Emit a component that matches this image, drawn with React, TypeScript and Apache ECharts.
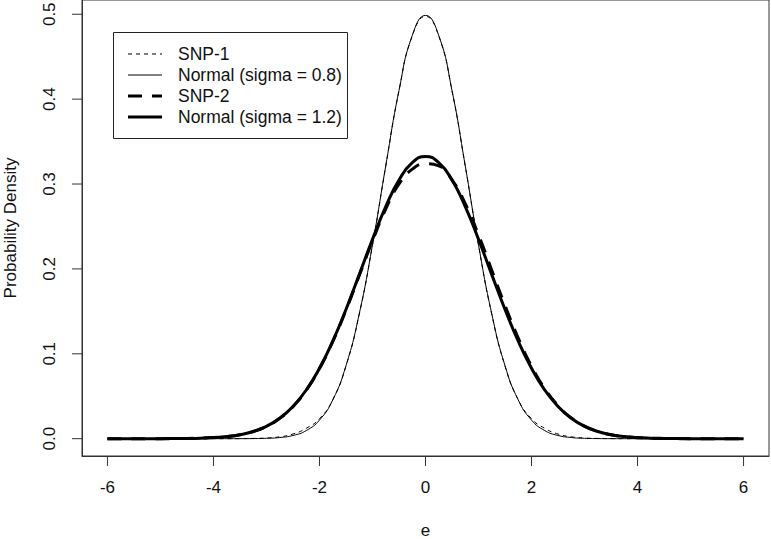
import React, { useEffect, useRef } from "react";
import * as echarts from "echarts";

// x grid for the curves (step 0.25 from -6 to 6)
const xValues: number[] = [
  -6, -5.75, -5.5, -5.25, -5, -4.75, -4.5, -4.25, -4, -3.75, -3.5, -3.25, -3, -2.75, -2.5, -2.25, -2, -1.75, -1.5,
  -1.25, -1, -0.75, -0.5, -0.25, 0, 0.25, 0.5, 0.75, 1, 1.25, 1.5, 1.75, 2, 2.25, 2.5, 2.75, 3, 3.25, 3.5, 3.75, 4,
  4.25, 4.5, 4.75, 5, 5.25, 5.5, 5.75, 6,
];

const snp1: number[] = [
  0, 0, 0, 0, 0, 0, 0, 0, 0, 0.00003, 0.0001, 0.0003, 0.0008, 0.0022, 0.0055, 0.0122, 0.0235, 0.0458, 0.0855,
  0.1465, 0.228, 0.321, 0.41, 0.4745, 0.4975, 0.4745, 0.41, 0.321, 0.228, 0.1465, 0.0855, 0.0458, 0.0235, 0.0122,
  0.0055, 0.0022, 0.0008, 0.0003, 0.0001, 0.00003, 0, 0, 0, 0, 0, 0, 0, 0, 0,
];

const normal08: number[] = [
  0, 0, 0, 0, 0, 0, 0, 0, 0, 0, 0.00003, 0.00013, 0.00044, 0.00136, 0.00378, 0.00955, 0.0219, 0.0456, 0.086,
  0.1471, 0.2283, 0.3214, 0.4102, 0.4749, 0.4987, 0.4749, 0.4102, 0.3214, 0.2283, 0.1471, 0.086, 0.0456, 0.0219,
  0.00955, 0.00378, 0.00136, 0.00044, 0.00013, 0.00003, 0, 0, 0, 0, 0, 0, 0, 0, 0, 0,
];

const snp2: number[] = [
  0, 0, 0, 0, 0, 0.0001, 0.0003, 0.0006, 0.0013, 0.0025, 0.0047, 0.0084, 0.0145, 0.024, 0.0378, 0.057, 0.0826,
  0.1144, 0.1515, 0.1922, 0.233, 0.2705, 0.3, 0.3175, 0.324, 0.3215, 0.305, 0.277, 0.24, 0.1985, 0.157, 0.1185,
  0.0855, 0.059, 0.039, 0.0245, 0.0148, 0.0085, 0.0047, 0.0025, 0.0012, 0.0006, 0.0003, 0.0001, 0, 0, 0, 0, 0,
];

const normal12: number[] = [
  0, 0, 0, 0, 0.00005, 0.00013, 0.00029, 0.00063, 0.00128, 0.00252, 0.00473, 0.00849, 0.0146, 0.0241, 0.038,
  0.0573, 0.0829, 0.1148, 0.1522, 0.1933, 0.2349, 0.2735, 0.3048, 0.3253, 0.3325, 0.3253, 0.3048, 0.2735, 0.2349,
  0.1933, 0.1522, 0.1148, 0.0829, 0.0573, 0.038, 0.0241, 0.0146, 0.00849, 0.00473, 0.00252, 0.00128, 0.00063,
  0.00029, 0.00013, 0.00005, 0, 0, 0, 0,
];

const xTicks: number[] = [-6, -4, -2, 0, 2, 4, 6];
const yTicks: number[] = [0, 0.1, 0.2, 0.3, 0.4, 0.5];
const legendLabels: string[] = ["SNP-1", "Normal (sigma = 0.8)", "SNP-2", "Normal (sigma = 1.2)"];

const FONT = "'Liberation Sans', Arial, sans-serif";
const X_MIN = -6.48;
const X_MAX = 6.48;
const Y_MIN = -0.0204;
const Y_MAX = 0.5168;
const TICK_LEN = 10;

export default function App() {
  const ref = useRef<HTMLDivElement>(null);
  useEffect(() => {
    if (!ref.current) return;
    const chart = echarts.init(ref.current, null, { renderer: "svg" });
    const pairs = (ys: number[]) => xValues.map((x, i) => [x, ys[i]]);
    const styles = [
      { width: 1, type: [4, 4] as any },
      { width: 1, type: "solid" as any },
      { width: 3, type: [14, 10] as any },
      { width: 3, type: "solid" as any },
    ];
    const seriesData = [snp1, normal08, snp2, normal12];
    const legendX1 = 128;
    const legendX2 = 162;
    const rowY = [54, 75, 96, 117];
    const legendChildren: any[] = [
      {
        type: "rect",
        shape: { x: 113.5, y: 32.5, width: 234, height: 106 },
        style: { fill: "#fff", stroke: "#222", lineWidth: 1 },
      },
    ];
    legendLabels.forEach((lab, i) => {
      legendChildren.push({
        type: "line",
        shape: { x1: legendX1, y1: rowY[i], x2: legendX2, y2: rowY[i] },
        style: {
          stroke: "#000",
          lineWidth: styles[i].width,
          lineDash: Array.isArray(styles[i].type) ? styles[i].type : null,
        },
      });
      legendChildren.push({
        type: "text",
        x: 178,
        y: rowY[i],
        style: {
          text: lab,
          font: `17.5px ${FONT}`,
          fill: "#111",
          textAlign: "left",
          textVerticalAlign: "middle",
        },
      });
    });

    const tickSeries = [
      {
        type: "custom",
        silent: true,
        clip: false,
        data: xTicks.map((v) => [v]),
        renderItem: (_p: any, api: any) => {
          const pt = api.coord([api.value(0), Y_MIN]);
          return {
            type: "line",
            shape: { x1: pt[0], y1: pt[1], x2: pt[0], y2: pt[1] + TICK_LEN },
            style: { stroke: "#333", lineWidth: 1 },
          };
        },
        z: 1,
      },
      {
        type: "custom",
        silent: true,
        clip: false,
        data: yTicks.map((v) => [v]),
        renderItem: (_p: any, api: any) => {
          const pt = api.coord([X_MIN, api.value(0)]);
          return {
            type: "line",
            shape: { x1: pt[0] - TICK_LEN, y1: pt[1], x2: pt[0], y2: pt[1] },
            style: { stroke: "#333", lineWidth: 1 },
          };
        },
        z: 1,
      },
    ];

    chart.setOption({
      animation: false,
      backgroundColor: "#fff",
      grid: {
        left: 82,
        right: 2,
        top: 0,
        bottom: 83,
        show: true,
        borderColor: "#333",
        borderWidth: 1,
        containLabel: false,
        outerBoundsMode: "none",
      },
      xAxis: {
        type: "value",
        min: X_MIN,
        max: X_MAX,
        name: "e",
        nameLocation: "middle",
        nameGap: 66,
        nameTextStyle: { fontFamily: FONT, fontSize: 17, color: "#111" },
        axisLine: { show: true, onZero: false, lineStyle: { color: "#333", width: 1 } },
        splitLine: { show: false },
        axisTick: { show: false },
        axisLabel: {
          customValues: xTicks,
          margin: 23,
          fontFamily: FONT,
          fontSize: 17,
          color: "#111",
          formatter: (v: number) => String(v),
        },
      },
      yAxis: {
        type: "value",
        min: Y_MIN,
        max: Y_MAX,
        name: "Probability Density",
        nameLocation: "middle",
        nameRotate: 90,
        nameGap: 63,
        nameTextStyle: { fontFamily: FONT, fontSize: 17, color: "#111" },
        axisLine: { show: true, onZero: false, lineStyle: { color: "#333", width: 1 } },
        splitLine: { show: false },
        axisTick: { show: false },
        axisLabel: {
          customValues: yTicks,
          rotate: 90,
          margin: 24,
          fontFamily: FONT,
          fontSize: 17,
          color: "#111",
          formatter: (v: number) => v.toFixed(1),
        },
      },
      series: [
        ...tickSeries,
        ...seriesData.map((ys, i) => ({
          type: "line",
          name: legendLabels[i],
          data: pairs(ys),
          showSymbol: false,
          smooth: true,
          lineStyle: { color: "#000", width: styles[i].width, type: styles[i].type },
          z: 2 + i,
        })),
      ],
      graphic: [{ type: "group", z: 100, children: legendChildren }],
    });
    return () => chart.dispose();
  }, []);
  return <div ref={ref} style={{ position: "fixed", left: 0, top: 0, width: 771, height: 539 }} />;
}
